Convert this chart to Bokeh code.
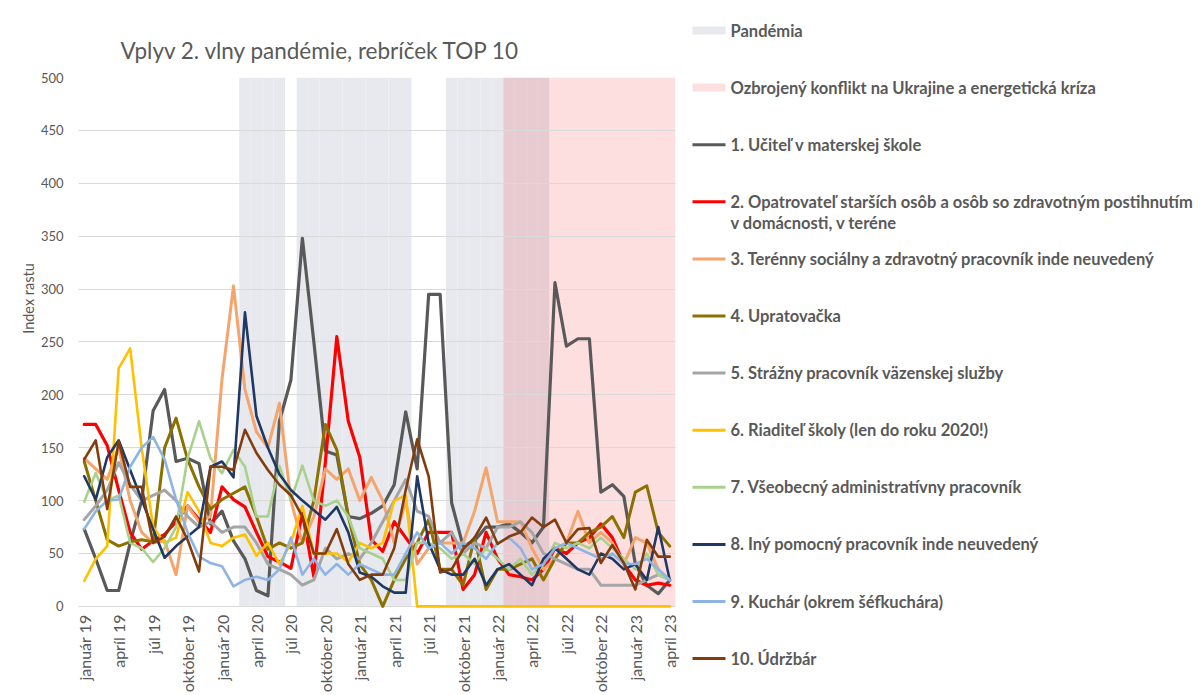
import math
from bokeh.plotting import figure
from bokeh.models import Range1d, FixedTicker
from bokeh.layouts import row
from bokeh.embed import file_html
from bokeh.resources import INLINE
from bokeh.core.properties import value

# ---------------- data ----------------
months = ["január 19", "február 19", "marec 19", "apríl 19", "máj 19", "jún 19", "júl 19", "august 19",
          "september 19", "október 19", "november 19", "december 19",
          "január 20", "február 20", "marec 20", "apríl 20", "máj 20", "jún 20", "júl 20", "august 20",
          "september 20", "október 20", "november 20", "december 20",
          "január 21", "február 21", "marec 21", "apríl 21", "máj 21", "jún 21", "júl 21", "august 21",
          "september 21", "október 21", "november 21", "december 21",
          "január 22", "február 22", "marec 22", "apríl 22", "máj 22", "jún 22", "júl 22", "august 22",
          "september 22", "október 22", "november 22", "december 22",
          "január 23", "február 23", "marec 23", "apríl 23"]

tick_labels = ["január 19", "apríl 19", "júl 19", "október 19", "január 20", "apríl 20", "júl 20",
               "október 20", "január 21", "apríl 21", "júl 21", "október 21", "január 22", "apríl 22",
               "júl 22", "október 22", "január 23", "apríl 23"]

# 1 = month belongs to the period
pandemia = [0]*14 + [1]*4 + [0] + [1]*10 + [0]*3 + [1]*9 + [0]*11
konflikt = [0]*37 + [1]*15

ucitel_ms = [73, 45, 15, 15, 60, 100, 185, 205, 137, 140, 135, 78,
             90, 62, 45, 15, 10, 175, 214, 348, 250, 147, 143, 85,
             83, 88, 95, 115, 184, 130, 295, 295, 98, 57, 62, 75,
             75, 78, 70, 60, 75, 306, 246, 253, 253, 108, 115, 104,
             40, 20, 12, 25]
opatrovatel = [172, 172, 152, 110, 70, 54, 62, 68, 80, 95, 82, 70,
               113, 101, 94, 70, 47, 42, 36, 88, 28, 136, 255, 175,
               141, 63, 52, 80, 65, 50, 70, 70, 70, 16, 30, 70,
               45, 30, 28, 25, 35, 55, 50, 60, 65, 78, 65, 40,
               25, 20, 22, 20]
terenny = [140, 130, 120, 150, 100, 70, 60, 62, 30, 95, 80, 85,
           215, 303, 205, 165, 150, 192, 100, 60, 85, 130, 120, 130,
           100, 122, 100, 60, 100, 40, 55, 60, 60, 60, 90, 131,
           80, 80, 80, 55, 35, 45, 60, 90, 60, 70, 60, 40,
           65, 60, 35, 25]
upratovacka = [137, 100, 63, 57, 61, 63, 61, 150, 178, 139, 113, 92,
               101, 107, 113, 85, 54, 60, 55, 60, 100, 172, 148, 85,
               40, 25, 0, 25, 45, 60, 82, 35, 35, 20, 65, 16,
               35, 35, 40, 45, 25, 45, 60, 60, 70, 75, 85, 65,
               108, 114, 70, 57]
strazny = [82, 95, 110, 136, 115, 100, 105, 110, 100, 85, 75, 80,
           70, 75, 75, 60, 40, 35, 30, 20, 25, 55, 45, 50,
           45, 60, 80, 100, 120, 90, 85, 60, 70, 50, 60, 55,
           75, 75, 80, 70, 50, 45, 40, 35, 35, 20, 20, 20,
           20, 25, 30, 25]
riaditel = [24, 45, 57, 225, 244, 150, 75, 60, 65, 108, 90, 60,
            57, 65, 68, 48, 60, 40, 60, 95, 50, 50, 50, 42,
            60, 55, 60, 100, 105, 0, 0, 0, 0, 0, 0, 0,
            0, 0, 0, 0, 0, 0, 0, 0, 0, 0, 0, 0,
            0, 0, 0, 0]
administrativny = [99, 126, 100, 105, 60, 55, 42, 55, 75, 140, 175, 140,
                   126, 148, 132, 85, 85, 133, 100, 133, 100, 95, 100, 85,
                   55, 50, 45, 25, 25, 60, 60, 55, 45, 50, 40, 55,
                   45, 35, 45, 30, 40, 60, 55, 60, 55, 65, 55, 45,
                   35, 50, 30, 25]
pomocny = [123, 101, 141, 157, 129, 101, 73, 46, 57, 66, 75, 132,
           137, 122, 278, 180, 150, 125, 110, 100, 91, 82, 94, 70,
           32, 28, 19, 13, 13, 123, 60, 35, 30, 30, 45, 20,
           35, 40, 30, 20, 45, 55, 45, 35, 30, 50, 45, 35,
           40, 25, 75, 25]
kuchar = [73, 90, 100, 101, 132, 150, 160, 139, 101, 70, 47, 41,
          38, 19, 25, 28, 25, 35, 65, 30, 45, 30, 40, 30,
          40, 35, 30, 30, 50, 70, 55, 60, 50, 60, 55, 45,
          60, 65, 55, 35, 40, 55, 60, 55, 50, 45, 50, 40,
          40, 45, 35, 25]
udrzbar = [139, 157, 92, 156, 113, 113, 60, 66, 85, 63, 33, 132,
           132, 129, 167, 145, 129, 115, 105, 85, 50, 50, 73, 40,
           25, 30, 30, 55, 110, 158, 123, 32, 35, 54, 65, 84,
           59, 66, 70, 84, 75, 82, 60, 73, 74, 41, 58, 41,
           16, 63, 47, 47]

series_names = ["1. Učiteľ v materskej škole",
                "2. Opatrovateľ starších osôb a osôb so zdravotným postihnutím\nv domácnosti, v teréne",
                "3. Terénny sociálny a zdravotný pracovník inde neuvedený",
                "4. Upratovačka",
                "5. Strážny pracovník väzenskej služby",
                "6. Riaditeľ školy (len do roku 2020!)",
                "7. Všeobecný administratívny pracovník",
                "8. Iný pomocný pracovník inde neuvedený",
                "9. Kuchár (okrem šéfkuchára)",
                "10. Údržbár"]
series_values = [ucitel_ms, opatrovatel, terenny, upratovacka, strazny, riaditel,
                 administrativny, pomocny, kuchar, udrzbar]
band_names = ["Pandémia", "Ozbrojený konflikt na Ukrajine a energetická kríza"]
title_text = "Vplyv 2. vlny pandémie, rebríček TOP 10"
y_title = "Index rastu"

# ---------------- styles ----------------
series_colors = ["#595959", "#FF0000", "#F4A46C", "#8C7000", "#A5A5A5",
                 "#FFC000", "#A9D18E", "#1F3864", "#8EB4E3", "#843C0C"]
series_widths = [3.2, 3.2, 3, 3, 3, 2.6, 2.6, 2.6, 2.6, 2.6]
GRAY_BAND = "#E7E9EE"
PINK_BAND = "#F00911"
PINK_ALPHA = 0.13
TXT = "#595959"
FONT = "Lato"
W, H = 1203, 695
Y0 = -2          # a little room below zero so the zero line is not clipped
FRAME_TOP, PX_PER_UNIT = 77, 1.06
FRAME_BOTTOM = FRAME_TOP + round((500 - Y0) * PX_PER_UNIT)


def no_align(fig):
    try:
        fig.frame_align = False
    except AttributeError:
        pass


idx = list(range(len(months)))

# ---------------- left strip with axis title ----------------
LW = 37
left = figure(width=LW, height=H, x_range=Range1d(0, LW), y_range=Range1d(H, 0),
              output_backend="svg", toolbar_location=None, x_axis_type=None, y_axis_type=None,
              min_border=0)
left.outline_line_color = None
left.grid.grid_line_color = None
no_align(left)
left.text(x=[28], y=[298], text=[y_title], angle=math.pi / 2, text_font=value(FONT),
          text_font_size="14.5px", text_color=TXT, text_align="center", text_baseline="middle")

# ---------------- main chart ----------------
MW = 685 - LW
p = figure(width=MW, height=H, x_range=Range1d(-0.5, 51.5), y_range=Range1d(Y0, 500),
           output_backend="svg", toolbar_location=None,
           min_border_left=76 - LW, min_border_right=10, min_border_top=FRAME_TOP,
           min_border_bottom=H - FRAME_BOTTOM)
no_align(p)
p.outline_line_color = None
p.background_fill_color = "white"
p.border_fill_color = "white"

p.title.text = title_text
p.title.align = "left"
p.title.offset = 42
p.title.standoff = 27
p.title.text_font = FONT
p.title.text_font_size = "22.5px"
p.title.text_font_style = "normal"
p.title.text_color = TXT

# period bands
pan_x = [i for i in idx if pandemia[i]]
kon_x = [i for i in idx if konflikt[i]]
r1 = p.vbar(x=pan_x, width=1.0, top=500, bottom=0, fill_color=GRAY_BAND, line_color=None)
r2 = p.vbar(x=kon_x, width=1.0, top=500, bottom=0, fill_color=PINK_BAND, fill_alpha=PINK_ALPHA, line_color=None)
r1.level = "image"
r2.level = "image"

for vals, col, lw in zip(series_values, series_colors, series_widths):
    p.line(x=idx, y=vals, line_color=col, line_width=lw, line_join="round", line_cap="round")

# axes
p.xgrid.grid_line_color = None
p.ygrid.grid_line_color = "#D9D9D9"
p.ygrid.grid_line_width = 1
p.ygrid.ticker = FixedTicker(ticks=list(range(0, 501, 50)))
p.yaxis.ticker = FixedTicker(ticks=list(range(0, 501, 50)))
p.yaxis.axis_line_color = None
p.yaxis.major_tick_line_color = None
p.yaxis.minor_tick_line_color = None
p.yaxis.major_tick_out = 0
p.yaxis.major_tick_in = 0
p.yaxis.minor_tick_out = 0
p.yaxis.major_label_standoff = 15
p.yaxis.major_label_text_font = FONT
p.yaxis.major_label_text_font_size = "13px"
p.yaxis.major_label_text_color = TXT

tick_pos = list(range(0, 52, 3))
p.xaxis.ticker = FixedTicker(ticks=tick_pos)
p.xaxis.major_label_overrides = {t: lab for t, lab in zip(tick_pos, tick_labels)}
p.xaxis.major_label_orientation = math.pi / 2
p.xaxis.axis_line_color = None
p.xaxis.major_tick_line_color = None
p.xaxis.minor_tick_line_color = None
p.xaxis.major_tick_out = 0
p.xaxis.major_tick_in = 0
p.xaxis.minor_tick_out = 0
p.xaxis.major_label_standoff = 6
p.xaxis.major_label_text_font = FONT
p.xaxis.major_label_text_font_size = "16px"
p.xaxis.major_label_text_color = TXT

# ---------------- legend panel ----------------
GW = W - 685
lg = figure(width=GW, height=H, x_range=Range1d(685, W), y_range=Range1d(H, 0),
            output_backend="svg", toolbar_location=None, x_axis_type=None, y_axis_type=None,
            min_border=0)
no_align(lg)
lg.outline_line_color = None
lg.grid.grid_line_color = None

step = 57.1
y0 = 30
sw_x0, sw_x1, tx = 692, 725, 730
lg.quad(left=sw_x0, right=sw_x1, top=y0 - 4, bottom=y0 + 4, fill_color=GRAY_BAND, line_color=None)
lg.quad(left=sw_x0, right=sw_x1, top=y0 + step - 4, bottom=y0 + step + 4,
        fill_color=PINK_BAND, fill_alpha=PINK_ALPHA, line_color=None)
ys = [y0 + step * (k + 2) for k in range(len(series_names))]
lg.segment(x0=[sw_x0] * len(ys), x1=[sw_x1] * len(ys), y0=ys, y1=ys,
           line_color=series_colors, line_width=3)

txt_x, txt_y, txt_s = [], [], []
for k, name in enumerate(band_names):
    txt_x.append(tx); txt_y.append(y0 + step * k); txt_s.append(name)
for k, name in enumerate(series_names):
    for j, part in enumerate(name.split("\n")):
        txt_x.append(tx); txt_y.append(ys[k] + 21 * j); txt_s.append(part)
lg.text(x=txt_x, y=txt_y, text=txt_s, text_font=value(FONT), text_font_style="bold",
        text_font_size="16.5px", text_color=TXT, text_baseline="middle", text_align="left")

layout = row(left, p, lg)
open("out.html", "w").write(file_html(layout, INLINE))
